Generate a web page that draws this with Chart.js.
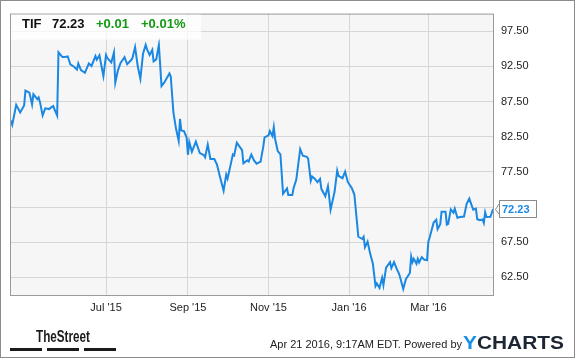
<!DOCTYPE html>
<html>
<head>
<meta charset="utf-8">
<script src="https://cdn.jsdelivr.net/npm/chart.js@4/dist/chart.umd.min.js"></script>
<style>
  html, body { margin: 0; padding: 0; background: #fff; }
  canvas { display: block; }
</style>
</head>
<body>
<canvas id="chart" width="575" height="358"></canvas>
<script>
  // days since Apr 20 2015
  const days = [
    0, 1, 4, 5, 7, 10, 11, 14, 16, 17, 20, 21, 22, 24, 26, 29, 30, 32, 33, 35,
    36, 39, 41, 43, 45, 48, 50, 51, 53, 56, 59, 61, 64, 65, 67, 70, 72, 73, 76, 78,
    79, 81, 83, 86, 88, 91, 92, 94, 96, 98, 100, 102, 103, 105, 107, 108, 110, 112, 114, 116,
    120, 121, 123, 125, 127, 128, 129, 131, 133, 134, 135, 137, 140, 143, 146, 147, 149, 151, 154, 156,
    158, 161, 163, 164, 166, 168, 169, 171, 175, 176, 179, 180, 182, 184, 186, 189, 191, 192, 195, 196,
    198, 199, 200, 202, 204, 205, 206, 209, 210, 213, 214, 216, 219, 221, 224, 225, 227, 228, 230, 232,
    234, 235, 238, 240, 242, 245, 247, 248, 251, 253, 255, 258, 260, 263, 266, 267, 268, 270, 272, 274,
    276, 277, 279, 281, 282, 284, 287, 288, 290, 292, 294, 297, 299, 302, 303, 304, 305, 307, 308, 309,
    311, 313, 315, 316, 317, 319, 320, 322, 323, 325, 326, 329, 330, 331, 333, 335, 336, 338, 340, 343,
    345, 347, 349, 350, 352, 353, 355, 357, 358, 359, 360, 363, 365
  ]
  const prices = [
    84.80, 84.21, 87.02, 86.67, 85.96, 86.95, 89.05, 88.77, 87.09, 88.53,
    87.83, 88.07, 87.41, 85.54, 86.53, 86.43, 86.60, 86.85, 86.39, 85.50,
    94.50, 93.82, 93.82, 93.92, 92.77, 92.42, 92.04, 92.91, 91.96, 91.58,
    92.91, 92.56, 93.96, 93.45, 94.08, 91.12, 94.11, 93.68, 93.05, 94.48,
    90.18, 91.93, 92.98, 93.82, 92.80, 93.40, 93.68, 95.23, 92.52, 90.74,
    94.29, 95.55, 94.95, 94.11, 94.85, 93.22, 93.50, 95.54, 89.71, 90.18,
    91.48, 91.06, 85.96, 83.62, 81.89, 85.02, 83.40, 83.30, 82.39, 79.93,
    81.75, 80.35, 81.80, 80.18, 79.89, 79.58, 81.38, 79.33, 79.33, 78.53,
    76.98, 74.84, 77.12, 76.56, 78.25, 79.97, 79.83, 81.66, 80.59, 78.71,
    79.16, 78.99, 79.97, 79.12, 78.67, 78.95, 81.05, 82.39, 82.69, 83.30,
    82.60, 83.86, 82.18, 80.45, 80.00, 77.26, 74.39, 75.16, 74.22, 74.22,
    75.20, 76.38, 80.73, 79.79, 79.65, 79.37, 76.24, 76.84, 76.53, 76.04,
    76.49, 75.09, 74.04, 75.48, 72.14, 74.67, 77.68, 76.94, 76.60, 77.54,
    76.07, 75.20, 74.27, 68.28, 67.96, 68.28, 66.78, 67.58, 65.85, 64.45,
    61.26, 61.64, 61.01, 62.46, 61.40, 63.89, 64.67, 63.82, 64.67, 63.75,
    62.95, 60.87, 62.25, 63.13, 65.47, 64.67, 65.15, 64.45, 65.15, 64.63,
    65.38, 65.01, 64.97, 67.58, 68.18, 69.61, 70.29, 70.70, 69.36, 70.06,
    71.82, 71.82, 70.01, 70.11, 72.17, 71.69, 72.28, 70.99, 71.09, 71.16,
    72.95, 73.71, 72.63, 72.14, 72.28, 70.77, 70.62, 70.74, 70.25, 71.75,
    71.09, 71.12, 72.23
  ]
  const yTicks = [62.5, 67.5, 72.5, 77.5, 82.5, 87.5, 92.5, 97.5]
  const xTickDays = [72, 134, 195, 256, 316]
  const xTickLabels = ["Jul '15", "Sep '15", "Nov '15", "Jan '16", "Mar '16"]

  const ticker = 'TIF'
  const lastPrice = '72.23'
  const change = '+0.01'
  const changePct = '+0.01%'
  const stamp = 'Apr 21 2016, 9:17AM EDT. Powered by'

  const FONT = '"Liberation Sans", Arial, sans-serif'
  const LINE = '#1a88e3'

  const frame = {
    id: 'frame',
    beforeDraw(chart) {
      const c = chart.ctx, a = chart.chartArea
      c.save()
      c.fillStyle = '#fff'
      c.fillRect(0, 0, chart.width, chart.height)
      c.fillStyle = '#f6f6f6'
      c.fillRect(a.left, a.top, a.right - a.left, a.bottom - a.top)
      c.restore()
    },
    afterDraw(chart) {
      const c = chart.ctx, a = chart.chartArea
      c.save()
      // plot border
      c.strokeStyle = '#9a9a9a'
      c.lineWidth = 1
      c.strokeRect(a.left + 0.5, a.top + 0.5, a.right - a.left - 1, a.bottom - a.top)

      // header box
      c.fillStyle = 'rgba(255,255,255,0.75)'
      c.fillRect(a.left + 1, a.top + 1, 190, 25)
      c.font = 'bold 13px ' + FONT
      c.textBaseline = 'alphabetic'
      c.textAlign = 'left'
      c.fillStyle = '#111'
      c.fillText(ticker, 22, 28)
      c.fillText(lastPrice, 52, 28)
      c.fillStyle = '#139a13'
      c.fillText(change, 96, 28)
      c.fillText(changePct, 141, 28)

      // last price tag
      const y = Math.round(chart.scales.y.getPixelForValue(prices[prices.length - 1]))
      c.strokeStyle = '#8a8a8a'
      c.beginPath()
      c.moveTo(499, y - 5)
      c.lineTo(495.5, y + 0.5)
      c.lineTo(499, y + 5)
      c.stroke()
      c.fillStyle = '#fff'
      c.fillRect(499.5, y - 8.5, 37, 17)
      c.strokeRect(499.5, y - 8.5, 37, 17)
      c.fillStyle = LINE
      c.font = 'bold 11px ' + FONT
      c.textBaseline = 'middle'
      c.fillText(lastPrice, 502, y + 1)

      // footer left logo
      c.fillStyle = '#1b1b1b'
      c.textBaseline = 'alphabetic'
      c.save()
      c.translate(36, 342)
      c.font = 'bold 17px ' + FONT
      const w = c.measureText('TheStreet').width
      c.scale(54 / w, 1)
      c.fillText('TheStreet', 0, 0)
      c.restore()
      c.fillRect(10, 348, 32, 3)
      c.fillRect(47, 348, 32, 3)
      c.fillRect(84, 348, 32, 3)

      // footer right
      c.fillStyle = '#222'
      c.font = '11px ' + FONT
      c.fillText(stamp, 270, 348)
      c.save()
      c.translate(463, 349)
      c.font = 'bold 19px ' + FONT
      const wy = c.measureText('Y').width
      const wt = c.measureText('YCHARTS').width
      c.scale(101 / wt, 1)
      c.fillStyle = '#1a8fe6'
      c.fillText('Y', 0, 0)
      c.fillStyle = '#1d2633'
      c.fillText('CHARTS', wy, 0)
      c.restore()

      // outer frame
      c.strokeStyle = '#8c8c8c'
      c.strokeRect(0.5, 0.5, chart.width - 1, chart.height - 1)
      c.restore()
    }
  }

  const ctx = document.getElementById('chart').getContext('2d')
  new Chart(ctx, {
    type: 'line',
    data: {
      datasets: [{
        data: days.map((d, i) => ({ x: d, y: prices[i] })),
        borderColor: LINE,
        borderWidth: 2,
        pointRadius: 0,
        tension: 0,
        fill: false
      }]
    },
    options: {
      responsive: false,
      animation: false,
      layout: { padding: { left: 10, top: 10, right: 0, bottom: 0 } },
      plugins: { legend: { display: false }, tooltip: { enabled: false } },
      scales: {
        x: {
          type: 'linear',
          min: -0.7,
          max: 365.7,
          afterBuildTicks: s => { s.ticks = xTickDays.map(v => ({ value: v })) },
          afterFit: s => { s.height = 63 },
          grid: { color: '#d6d6d6', drawTicks: false },
          border: { display: false },
          ticks: {
            autoSkip: false,
            maxRotation: 0,
            padding: 6,
            color: '#222',
            font: { family: FONT, size: 11 },
            callback: (v, i) => xTickLabels[i]
          }
        },
        y: {
          position: 'right',
          min: 60,
          max: 100,
          afterBuildTicks: s => { s.ticks = yTicks.map(v => ({ value: v })) },
          afterFit: s => { s.width = 81 },
          grid: { color: '#d6d6d6', drawTicks: false },
          border: { display: false },
          ticks: {
            padding: 7,
            color: '#222',
            font: { family: FONT, size: 11 },
            callback: v => v.toFixed(2)
          }
        }
      }
    },
    plugins: [frame]
  })
</script>
</body>
</html>
